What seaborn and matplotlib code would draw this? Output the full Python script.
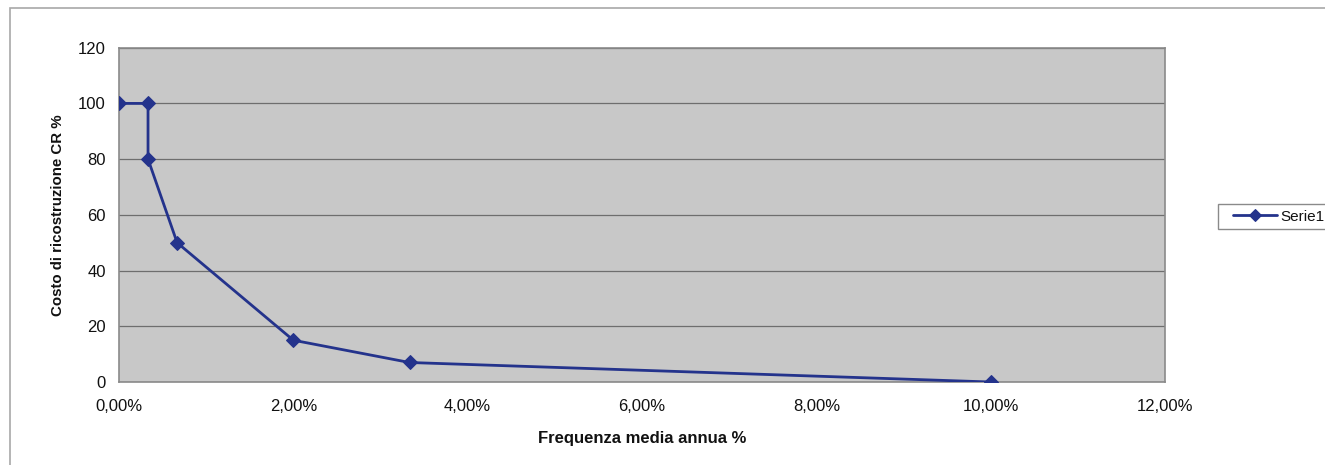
import matplotlib
matplotlib.use("Agg")
import matplotlib.pyplot as plt
from matplotlib.patches import Rectangle
from matplotlib.ticker import FuncFormatter, MultipleLocator
import seaborn as sns
import pandas as pd

# Frequency (fraction) vs. reconstruction cost (%)
frequenza = [0.0, 0.00333, 0.00333, 0.00667, 0.02, 0.03333, 0.10]
costo = [100, 100, 80, 50, 15, 7, 0]
serie = "Serie1"

df = pd.DataFrame({"freq": frequenza, "costo": costo, "serie": serie})

sns.set_theme(style="white")
plt.rcParams["font.family"] = ["Liberation Sans", "DejaVu Sans"]

W, H = 1325, 465
fig = plt.figure(figsize=(W / 100, H / 100), dpi=100)
ax = fig.add_axes([119 / W, 1 - 382 / H, (1165 - 119) / W, (382 - 47.7) / H])

# outer chart-area frame
fig.patches.append(Rectangle((10 / W, -0.05), 1.1, 1 - 8 / H + 0.05,
                             transform=fig.transFigure, fill=False,
                             edgecolor="#a8a8a8", linewidth=1.2, zorder=-2))
# legend frame (runs off the right edge of the chart area)
fig.patches.append(Rectangle((1218 / W, 1 - 229 / H), 0.2, 25 / H,
                             transform=fig.transFigure, facecolor="white",
                             edgecolor="#8a8a8a", linewidth=1.0, zorder=-1))

ax.set_facecolor("#c8c8c8")
line_color = "#24338c"
sns.lineplot(data=df, x="freq", y="costo", hue="serie", sort=False, estimator=None,
             palette=[line_color], marker="D", markersize=7.5, markeredgecolor=line_color,
             linewidth=2.0, ax=ax, zorder=3)

ax.set_xlim(0, 0.12)
ax.set_ylim(0, 120)
ax.xaxis.set_major_locator(MultipleLocator(0.02))
ax.yaxis.set_major_locator(MultipleLocator(20))
ax.xaxis.set_major_formatter(FuncFormatter(lambda v, p: f"{v * 100:.2f}%".replace(".", ",")))
ax.grid(axis="y", color="#6e6e6e", linewidth=0.9)
ax.grid(axis="x", visible=False)
ax.set_axisbelow(True)

for s in ax.spines.values():
    s.set_color("#8a8a8a")
    s.set_linewidth(1.2)

ax.tick_params(axis="both", which="major", direction="out", length=4.5, width=1,
               color="#8a8a8a", labelsize=12, labelcolor="#111111")
ax.tick_params(axis="x", pad=8)
ax.tick_params(axis="y", pad=5)

ax.set_xlabel("Frequenza media annua %", fontsize=12, fontweight="bold", color="#111111", labelpad=12)
ax.set_ylabel("Costo di ricostruzione CR %", fontsize=10.8, fontweight="bold", color="#111111", labelpad=9)

leg = ax.legend(loc="center left", bbox_to_anchor=((1228 - 119) / 1046, (382 - 216.5) / 334.3),
                frameon=False, fontsize=11, handlelength=2.9, handletextpad=0.25,
                borderpad=0.3, borderaxespad=0.0, markerscale=0.8)
leg.set_title(None)
for t in leg.get_texts():
    t.set_color("#111111")

fig.savefig("out.png", dpi=100)
